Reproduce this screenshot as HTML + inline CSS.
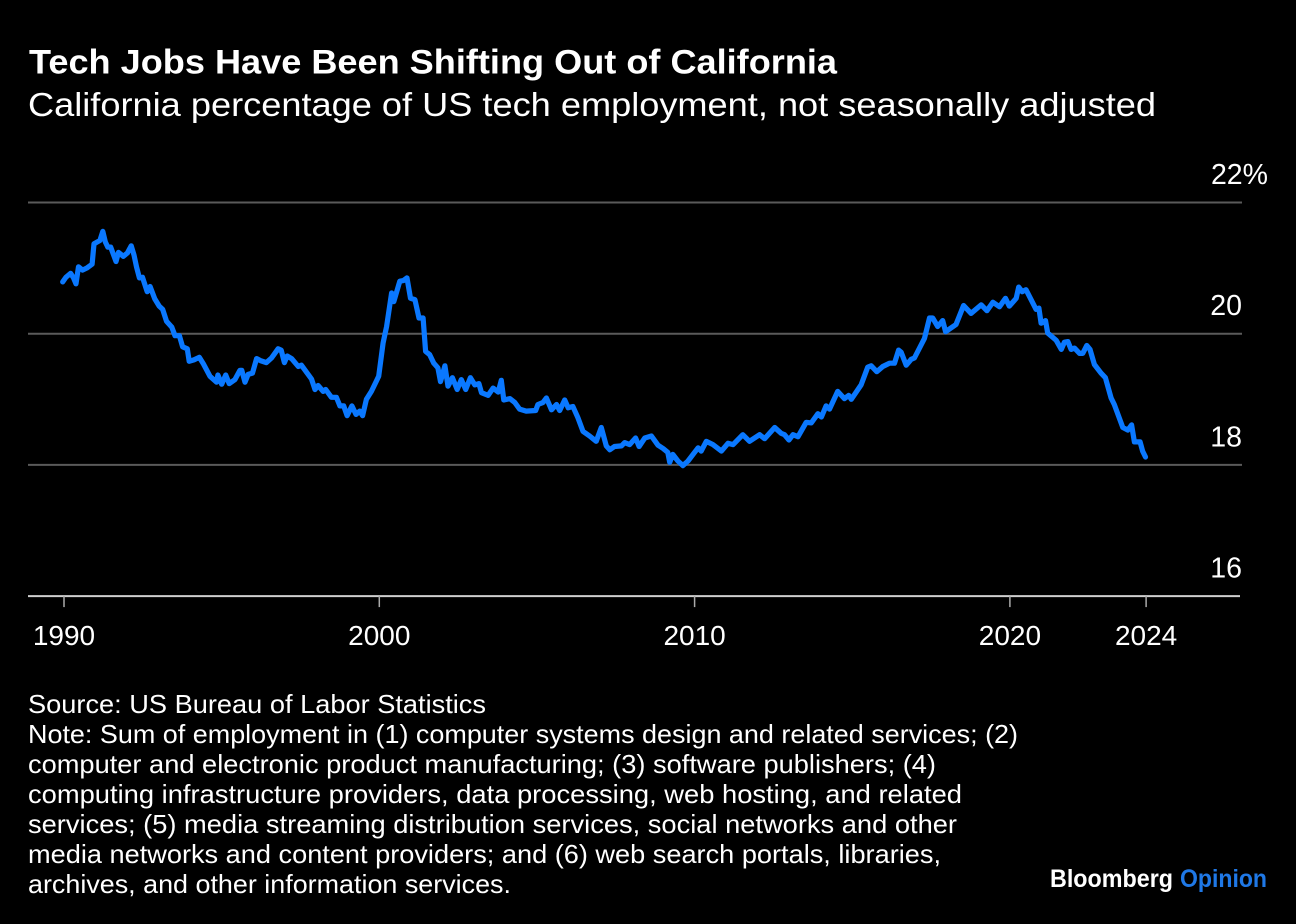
<!DOCTYPE html>
<html lang="en">
<head>
<meta charset="utf-8">
<title>Tech Jobs Have Been Shifting Out of California</title>
<style>
html,body{margin:0;padding:0;background:#000;width:1296px;height:924px;overflow:hidden}
svg{display:block}
text{font-family:"Liberation Sans",sans-serif;fill:#fff}
</style>
</head>
<body>
<svg id="chart" xmlns="http://www.w3.org/2000/svg" width="1296" height="924" viewBox="0 0 1296 924">
<rect width="1296" height="924" fill="#000"/>
<text x="29" y="73.5" font-size="34" font-weight="700" textLength="808" lengthAdjust="spacingAndGlyphs">Tech Jobs Have Been Shifting Out of California</text>
<text x="28" y="116" font-size="33" textLength="1128" lengthAdjust="spacingAndGlyphs">California percentage of US tech employment, not seasonally adjusted</text>
<g id="axes"></g>
<path id="series" fill="none" stroke="#0a78ff" stroke-width="5.2" stroke-linejoin="round" stroke-linecap="round"/>
<g font-size="26">
<text x="28" y="713" textLength="458" lengthAdjust="spacingAndGlyphs">Source: US Bureau of Labor Statistics</text>
<text x="28" y="743" textLength="990" lengthAdjust="spacingAndGlyphs">Note: Sum of employment in (1) computer systems design and related services; (2)</text>
<text x="28" y="773" textLength="908" lengthAdjust="spacingAndGlyphs">computer and electronic product manufacturing; (3) software publishers; (4)</text>
<text x="28" y="803" textLength="934" lengthAdjust="spacingAndGlyphs">computing infrastructure providers, data processing, web hosting, and related</text>
<text x="28" y="833" textLength="929" lengthAdjust="spacingAndGlyphs">services; (5) media streaming distribution services, social networks and other</text>
<text x="28" y="863" textLength="913" lengthAdjust="spacingAndGlyphs">media networks and content providers; and (6) web search portals, libraries,</text>
<text x="28" y="893" textLength="483" lengthAdjust="spacingAndGlyphs">archives, and other information services.</text>
</g>
<text x="1050" y="887" font-size="25" font-weight="700" textLength="123" lengthAdjust="spacingAndGlyphs">Bloomberg</text>
<text x="1180" y="887" font-size="25" font-weight="700" textLength="87" lengthAdjust="spacingAndGlyphs" style="fill:#1f78e6">Opinion</text>
</svg>
<script>
const yTicks = [22, 20, 18];
const yLabels = ['22%', '20', '18', '16'];
const yLabelValues = [22, 20, 18, 16];
const baselineValue = 16;
const xTicks = [1990, 2000, 2010, 2020, 2024.32];
const xLabels = ['1990', '2000', '2010', '2020', '2024'];
const years = [
1989.96,1990.06,1990.21,1990.30,1990.38,1990.46,1990.59,1990.72,1990.89,1990.95,
1991.06,1991.14,1991.23,1991.31,1991.39,1991.48,1991.65,1991.73,1991.88,1992.01,
1992.13,1992.22,1992.30,1992.39,1992.49,1992.64,1992.73,1992.88,1993.02,1993.13,
1993.25,1993.42,1993.52,1993.66,1993.76,1993.91,1993.97,1994.12,1994.29,1994.42,
1994.63,1994.84,1994.88,1995.00,1995.13,1995.24,1995.42,1995.58,1995.64,1995.74,
1995.84,1995.98,1996.11,1996.23,1996.42,1996.58,1996.79,1996.89,1996.99,1997.08,
1997.22,1997.43,1997.53,1997.85,1997.96,1998.06,1998.22,1998.30,1998.48,1998.64,
1998.75,1998.87,1998.98,1999.13,1999.26,1999.38,1999.47,1999.59,1999.75,1999.98,
2000.12,2000.23,2000.39,2000.46,2000.65,2000.76,2000.88,2000.99,2001.13,2001.26,
2001.39,2001.47,
2001.60,2001.73,2001.86,2001.94,2002.08,2002.18,2002.32,2002.47,2002.60,2002.74,
2002.89,2003.03,2003.16,2003.24,2003.45,2003.61,2003.77,2003.87,2003.95,2004.14,
2004.30,2004.45,2004.66,2004.96,2005.03,2005.19,2005.30,2005.46,2005.62,2005.72,
2005.88,2005.99,2006.14,2006.30,2006.46,2006.67,2006.88,2007.04,2007.20,2007.31,
2007.46,2007.68,2007.78,2007.94,2008.13,2008.24,2008.42,2008.63,2008.84,2009.00,
2009.15,2009.21,2009.31,2009.47,2009.63,2009.79,2009.95,2010.11,2010.21,2010.37,
2010.58,2010.85,2011.06,2011.22,2011.53,2011.74,2012.06,2012.22,2012.54,2012.75,
2012.85,2012.99,2013.12,2013.28,2013.54,2013.70,2013.91,2014.02,2014.17,
2014.28,2014.54,2014.75,2014.89,2014.97,2015.28,2015.49,2015.60,2015.78,2015.97,
2016.18,2016.34,2016.47,2016.55,2016.71,2016.87,2016.97,2017.29,2017.45,2017.55,
2017.71,2017.87,2017.96,2018.29,2018.53,2018.77,2019.09,2019.27,2019.46,2019.67,
2019.86,2019.98,2020.20,2020.28,2020.39,2020.51,2020.83,2020.92,2020.99,2021.13,
2021.20,2021.47,2021.63,2021.73,2021.84,2021.94,2022.05,2022.21,2022.31,2022.44,
2022.54,2022.68,2022.89,2023.03,2023.21,2023.31,2023.58,2023.74,2023.86,2023.95,
2024.13,2024.21,2024.30
];
const techShare = [
20.79,20.86,20.92,20.85,20.76,21.02,20.97,21.00,21.06,21.37,
21.40,21.42,21.56,21.40,21.32,21.32,21.10,21.24,21.18,21.23,
21.34,21.20,21.02,20.85,20.86,20.64,20.72,20.53,20.42,20.37,
20.19,20.10,19.97,19.97,19.80,19.77,19.58,19.60,19.64,19.54,
19.35,19.26,19.37,19.23,19.37,19.24,19.30,19.44,19.44,19.26,
19.38,19.40,19.62,19.59,19.56,19.63,19.77,19.75,19.56,19.66,
19.62,19.50,19.52,19.31,19.15,19.21,19.12,19.15,19.03,19.03,
18.90,18.90,18.75,18.90,18.77,18.82,18.75,19.00,19.12,19.35,
19.86,20.11,20.62,20.49,20.80,20.81,20.85,20.54,20.52,20.24,
20.24,19.73,
19.68,19.55,19.48,19.27,19.51,19.20,19.33,19.15,19.30,19.15,
19.33,19.22,19.24,19.10,19.06,19.17,19.11,19.29,18.99,19.01,
18.95,18.85,18.82,18.83,18.92,18.95,19.02,18.84,18.92,18.83,
18.99,18.87,18.89,18.72,18.51,18.44,18.36,18.57,18.29,18.23,
18.28,18.29,18.34,18.31,18.41,18.28,18.41,18.44,18.30,18.25,
18.19,18.04,18.16,18.06,17.99,18.06,18.16,18.26,18.21,18.36,
18.31,18.21,18.33,18.31,18.46,18.36,18.46,18.40,18.57,18.48,
18.46,18.38,18.46,18.43,18.65,18.64,18.78,18.73,18.90,
18.85,19.12,19.01,19.06,19.00,19.22,19.49,19.51,19.42,19.50,
19.55,19.55,19.75,19.72,19.52,19.61,19.63,19.93,20.24,20.24,
20.11,20.20,20.03,20.14,20.43,20.31,20.44,20.35,20.48,20.41,
20.54,20.42,20.54,20.71,20.64,20.67,20.37,20.39,20.16,20.20,
20.01,19.90,19.76,19.87,19.88,19.76,19.78,19.70,19.70,19.82,
19.76,19.53,19.40,19.33,19.02,18.92,18.57,18.53,18.61,18.35,
18.35,18.21,18.12
];

function xScale(year) { return 64 + (year - 1990) * 31.53; }
function yScale(value) { return 464.9 - (value - 18) * 65.6; }

const NS = 'http://www.w3.org/2000/svg';
const axes = document.getElementById('axes');

yTicks.forEach(function (t) {
  const line = document.createElementNS(NS, 'line');
  
  
  line.setAttribute('x1', 28);
  line.setAttribute('x2', 1242);
  line.setAttribute('y1', yScale(t));
  line.setAttribute('y2', yScale(t));
  line.setAttribute('stroke', '#5a5a5a');
  line.setAttribute('stroke-width', 2);
  axes.appendChild(line);
});

const baseline = document.createElementNS(NS, 'line');


baseline.setAttribute('x1', 28);
baseline.setAttribute('x2', 1240);
baseline.setAttribute('y1', yScale(baselineValue));
baseline.setAttribute('y2', yScale(baselineValue));
baseline.setAttribute('stroke', '#cfcfcf');
baseline.setAttribute('stroke-width', 2);
axes.appendChild(baseline);

yLabelValues.forEach(function (v, i) {
  const label = document.createElementNS(NS, 'text');
  
  
  label.setAttribute('x', i === 0 ? 1268 : 1242);
  label.setAttribute('y', yScale(v) - 18.5);
  label.setAttribute('text-anchor', 'end');
  label.setAttribute('font-size', 28.5);
  label.textContent = yLabels[i];
  axes.appendChild(label);
});

xTicks.forEach(function (t, i) {
  const tick = document.createElementNS(NS, 'line');
  
  
  tick.setAttribute('x1', xScale(t));
  tick.setAttribute('x2', xScale(t));
  tick.setAttribute('y1', yScale(baselineValue));
  tick.setAttribute('y2', yScale(baselineValue) + 11);
  tick.setAttribute('stroke', '#aaaaaa');
  tick.setAttribute('stroke-width', 1.5);
  axes.appendChild(tick);

  const label = document.createElementNS(NS, 'text');
  
  
  label.setAttribute('x', xScale(t));
  label.setAttribute('y', 645);
  label.setAttribute('text-anchor', 'middle');
  label.setAttribute('font-size', 28);
  label.textContent = xLabels[i];
  axes.appendChild(label);
});

let d = '';
years.forEach(function (yr, i) {
  d += (i === 0 ? 'M' : 'L') + xScale(yr).toFixed(1) + ' ' + yScale(techShare[i]).toFixed(1);
});
document.getElementById('series').setAttribute('d', d);
</script>
</body>
</html>
